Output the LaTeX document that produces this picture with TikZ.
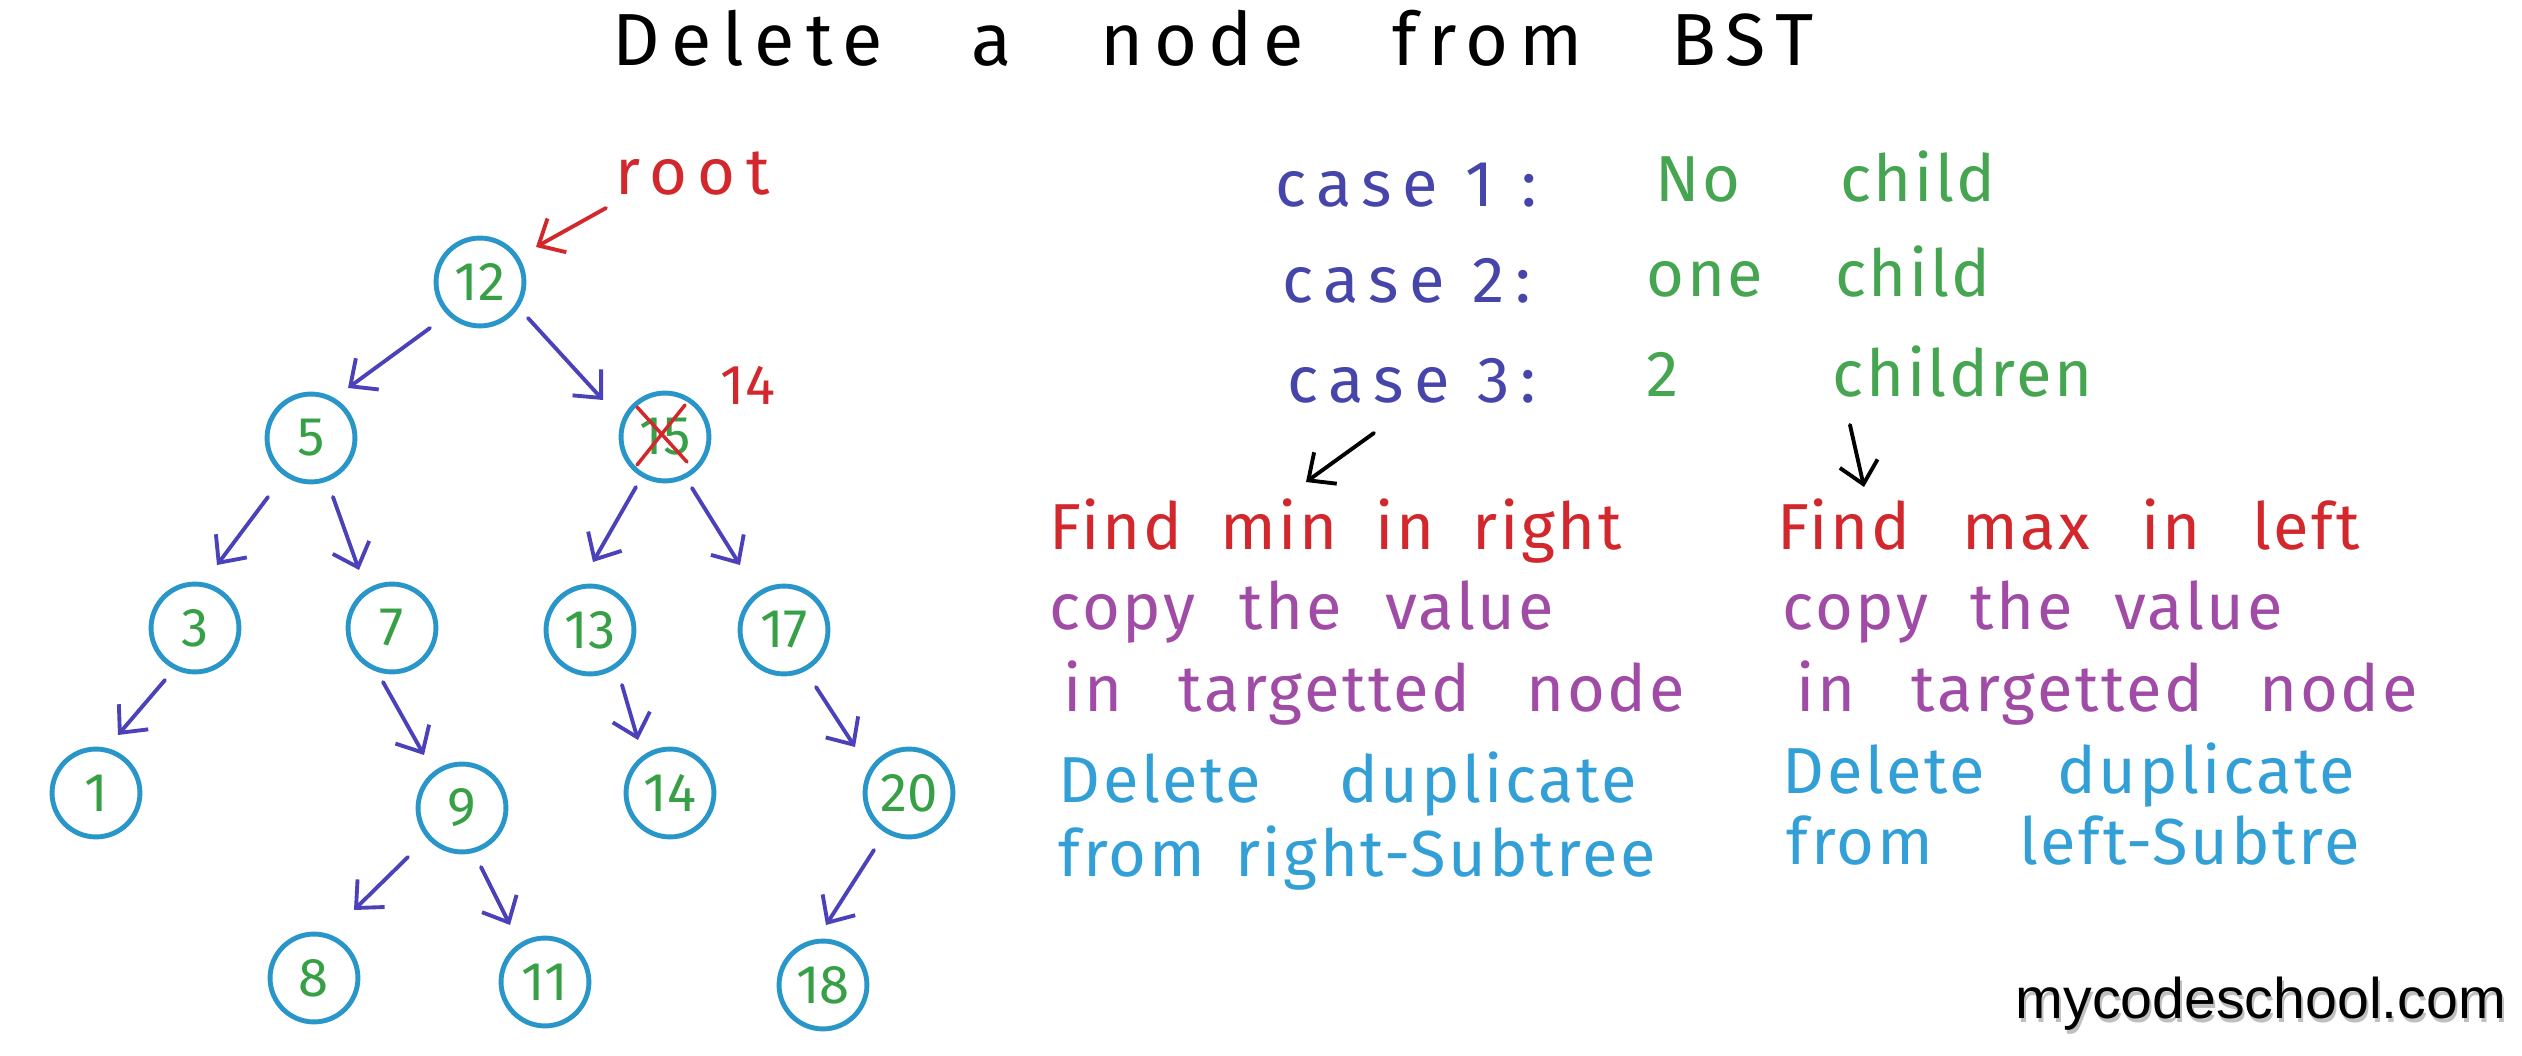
\documentclass[tikz,border=0pt]{standalone}
\usepackage{fontspec}
\setmainfont{Fira Sans}
\newfontfamily\handfont{Fira Sans}[LetterSpace=4]
\newfontfamily\casefont{Fira Sans}[LetterSpace=16]
\newfontfamily\titlefont{Fira Sans}[LetterSpace=15]
\newfontfamily\digitfont{Fira Sans}
\newfontfamily\markfont{Liberation Sans}
\usetikzlibrary{arrows.meta}

% stretch a line of text to a given width (in mm) through its word spaces
\newcommand{\spreadto}[2]{\makebox[#1mm][s]{#2}}

\definecolor{ringblue}{RGB}{40,150,200}
\definecolor{numgreen}{RGB}{55,160,70}
\definecolor{edgeblue}{RGB}{75,65,185}
\definecolor{casenavy}{RGB}{70,70,170}
\definecolor{textgreen}{RGB}{70,165,80}
\definecolor{inkred}{RGB}{210,40,45}
\definecolor{inkpurple}{RGB}{160,75,165}
\definecolor{inkcyan}{RGB}{50,160,215}

\tikzset{
  bstnode/.style={circle, draw=ringblue, line width=1.4pt, minimum size=25pt,
    inner sep=0pt, text=numgreen, font=\digitfont\fontsize{15.5}{17}\selectfont},
  treearrow/.style={draw=edgeblue, line width=1.1pt, line cap=round,
    -{Straight Barb[length=6pt,width=11pt]}},
  inkarrow/.style={draw=black, line width=1.1pt, line cap=round,
    -{Straight Barb[length=6pt,width=11pt]}},
  hand/.style={anchor=base west, inner sep=0pt,
    font=\handfont\fontsize{18.5}{21}\selectfont},
  caselabel/.style={anchor=base west, inner sep=0pt, text=casenavy,
    font=\casefont\fontsize{18.5}{21}\selectfont},
}

\begin{document}
\begin{tikzpicture}[x=0.1mm, y=-0.1mm]
  \fill[white] (0,0) rectangle (2522,1056);
  \useasboundingbox (0,0) rectangle (2522,1056);

  % title
  \node[anchor=base west, inner sep=0pt, font=\titlefont\fontsize{21}{24}\selectfont]
    (title) at (612,66) {\spreadto{120.1}{Delete a node from BST}};

  % the tree
  \node[bstnode] (n12) at (480,282) {12};
  \node[bstnode] (n5)  at (311,438) {5};
  \node[bstnode] (n15) at (665,437) {15};
  \node[bstnode] (n3)  at (195,628) {3};
  \node[bstnode] (n7)  at (392,628) {7};
  \node[bstnode] (n13) at (590,630) {13};
  \node[bstnode] (n17) at (784,630) {17};
  \node[bstnode] (n1)  at (96,793)  {1};
  \node[bstnode] (n9)  at (462,808) {9};
  \node[bstnode] (n14) at (670,793) {14};
  \node[bstnode] (n20) at (909,793) {20};
  \node[bstnode] (n8)  at (314,978) {8};
  \node[bstnode] (n11) at (545,982) {11};
  \node[bstnode] (n18) at (823,985) {18};

  \draw[treearrow] ([shift={(-50,46)}]n12.center) -- ([shift={(37,-50)}]n5.center);
  \draw[treearrow] ([shift={(48,36)}]n12.center)  -- ([shift={(-62,-37)}]n15.center);
  \draw[treearrow] ([shift={(-43,59)}]n5.center)  -- ([shift={(22,-63)}]n3.center);
  \draw[treearrow] ([shift={(22,59)}]n5.center)   -- ([shift={(-33,-58)}]n7.center);
  \draw[treearrow] ([shift={(-29,50)}]n15.center) -- ([shift={(3,-68)}]n13.center);
  \draw[treearrow] ([shift={(27,51)}]n15.center)  -- ([shift={(-44,-65)}]n17.center);
  \draw[treearrow] ([shift={(-30,52)}]n3.center)  -- ([shift={(22,-58)}]n1.center);
  \draw[treearrow] ([shift={(-9,54)}]n7.center)   -- ([shift={(-38,-53)}]n9.center);
  \draw[treearrow] ([shift={(32,55)}]n13.center)  -- ([shift={(-32,-53)}]n14.center);
  \draw[treearrow] ([shift={(32,57)}]n17.center)  -- ([shift={(-54,-46)}]n20.center);
  \draw[treearrow] ([shift={(-54,49)}]n9.center)  -- ([shift={(40,-68)}]n8.center);
  \draw[treearrow] ([shift={(19,59)}]n9.center)   -- ([shift={(-35,-57)}]n11.center);
  \draw[treearrow] ([shift={(-35,57)}]n20.center) -- ([shift={(3,-60)}]n18.center);

  % root pointer, crossed-out 15 and its replacement
  \node[caselabel, text=inkred] (root) at (615,195) {root};
  \draw[draw=inkred, line width=1.1pt, line cap=round, -{Straight Barb[length=6pt,width=11pt]}]
    ([shift={(-9,13)}]root.base west) -- ([shift={(56,-35)}]n12.center);
  \draw[inkred, line width=1pt, line cap=round]
    ([shift={(-28,-30)}]n15.center) -- ([shift={(22,25)}]n15.center)
    ([shift={(20,-32)}]n15.center) -- ([shift={(-28,28)}]n15.center);
  \node[text=inkred, inner sep=0pt, font=\digitfont\fontsize{16}{18}\selectfont]
    (newval) at (748,385) {14};

  % the three cases
  \node[caselabel] (case1) at (1275,207) {case 1 :};
  \node[caselabel] (case2) at (1282,303) {case 2:};
  \node[caselabel] (case3) at (1287,403) {case 3:};
  \node[hand, text=textgreen] (kid0) at (1655,202) {\spreadto{34.0}{No child}};
  \node[hand, text=textgreen] (kid1) at (1646,297) {\spreadto{34.4}{one child}};
  \node[hand, text=textgreen] (kid2) at (1646,397) {\spreadto{44.6}{2 children}};

  \coordinate (leftfrom) at (1374,433);
  \coordinate (leftto)   at (1306,482);
  \coordinate (rightfrom) at (1850,425);
  \coordinate (rightto)   at (1864,487);
  \draw[inkarrow] (leftfrom) -- (leftto);
  \draw[inkarrow] (rightfrom) -- (rightto);

  % successor route
  \node[hand, text=inkred]    (minr)  at (1049,550) {\spreadto{57.2}{Find min in right}};
  \node[hand, text=inkpurple] (copyl) at (1049,630) {\spreadto{50.4}{copy the value}};
  \node[hand, text=inkpurple] (intol) at (1063,712) {\spreadto{62.1}{in targetted node}};
  \node[hand, text=inkcyan]   (dell)  at (1058,803) {\spreadto{57.8}{Delete duplicate}};
  \node[hand, text=inkcyan]   (froml) at (1058,877) {\spreadto{59.7}{from right-Subtree}};

  % predecessor route
  \node[hand, text=inkred]    (maxl)  at (1777,550) {\spreadto{58.2}{Find max in left}};
  \node[hand, text=inkpurple] (copyr) at (1782,630) {\spreadto{50.0}{copy the value}};
  \node[hand, text=inkpurple] (intor) at (1796,712) {\spreadto{62.1}{in targetted node}};
  \node[hand, text=inkcyan]   (delr)  at (1782,794) {\spreadto{57.2}{Delete duplicate}};
  \node[hand, text=inkcyan]   (fromr) at (1786,865) {\spreadto{57.3}{from left-Subtre}};

  % site mark with a soft shadow
  \node[anchor=base west, inner sep=0pt, text=black!25,
        font=\markfont\fontsize{16.3}{18}\selectfont] (markshadow) at (2017,1022) {mycodeschool.com};
  \node[anchor=base west, inner sep=0pt, text=black,
        font=\markfont\fontsize{16.3}{18}\selectfont] (mark) at (2015,1018) {mycodeschool.com};
\end{tikzpicture}
\end{document}
